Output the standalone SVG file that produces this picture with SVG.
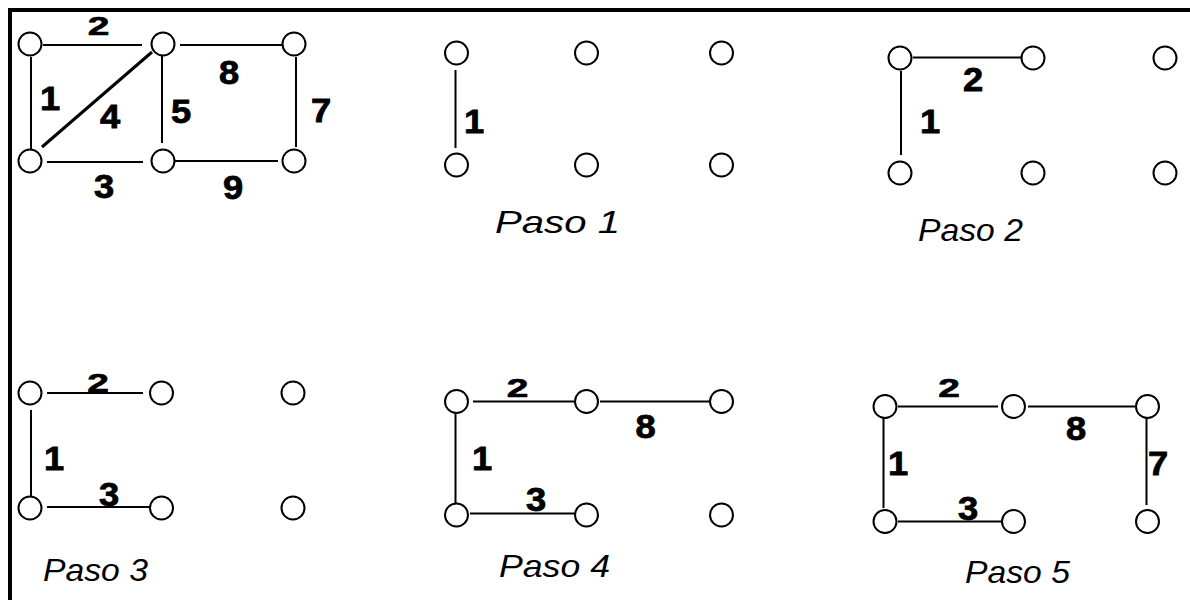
<svg xmlns="http://www.w3.org/2000/svg" width="1190" height="600" viewBox="0 0 1190 600">
  <style>
    .n { fill: #fff; stroke: #000; stroke-width: 2; }
    .e { stroke: #000; stroke-width: 2; fill: none; }
    .e4 { stroke: #000; stroke-width: 3; fill: none; }
    .w { font-family: "Liberation Sans", Arial, sans-serif; font-weight: bold; font-size: 33px; text-anchor: middle; fill: #000; stroke: #000; stroke-width: 0.8px; }
    .cap { font-family: "Liberation Sans", Arial, sans-serif; font-style: italic; font-size: 32px; fill: #000; }
    .frame { stroke: #000; stroke-width: 4; fill: none; }
  </style>

  <rect width="1190" height="600" fill="#fff"/>
  <!-- frame: top and left rules -->
  <path class="frame" d="M10,600 V10 H1190"/>

  <!-- ===== full graph ===== -->
  <g id="graph">
    <g id="graph-edges">
      <line class="e" x1="43" y1="45" x2="142" y2="45"/>
      <line class="e" x1="180" y1="45" x2="282" y2="45"/>
      <line class="e" x1="31" y1="57" x2="31" y2="150"/>
      <line class="e" x1="162" y1="53" x2="162" y2="143"/>
      <line class="e" x1="296" y1="57" x2="296" y2="147"/>
      <line class="e" x1="47" y1="162" x2="143" y2="162"/>
      <line class="e" x1="175" y1="161" x2="278" y2="161"/>
      <line class="e4" x1="42" y1="147" x2="152" y2="52"/>
    </g>
    <g id="graph-n1"><circle class="n" cx="30" cy="44" r="11.5"/></g>
    <g id="graph-n2"><circle class="n" cx="163" cy="44" r="11.5"/></g>
    <g id="graph-n3"><circle class="n" cx="294" cy="44" r="11.5"/></g>
    <g id="graph-n4"><circle class="n" cx="30" cy="161" r="11.5"/></g>
    <g id="graph-n5"><circle class="n" cx="163" cy="161" r="11.5"/></g>
    <g id="graph-n6"><circle class="n" cx="294" cy="161" r="11.5"/></g>
    <g id="graph-labels">
      <text class="w" transform="translate(98.5 35) scale(1.18 0.78)">2</text>
      <text class="w" transform="translate(50 110) scale(1.1 1)">1</text>
      <text class="w" transform="translate(110 128) scale(1.1 1)">4</text>
      <text class="w" transform="translate(181 123) scale(1.1 1)">5</text>
      <text class="w" transform="translate(229 84) scale(1.1 1)">8</text>
      <text class="w" transform="translate(321 122) scale(1.1 1)">7</text>
      <text class="w" transform="translate(104 198) scale(1.1 1)">3</text>
      <text class="w" transform="translate(233 199) scale(1.1 1)">9</text>
    </g>
  </g>

  <!-- ===== step 1 ===== -->
  <g id="step1">
    <g id="step1-edges">
      <line class="e" x1="455.5" y1="70" x2="455.5" y2="148"/>
    </g>
    <g id="step1-n1"><circle class="n" cx="456.5" cy="53" r="11.5"/></g>
    <g id="step1-n2"><circle class="n" cx="586.5" cy="53" r="11.5"/></g>
    <g id="step1-n3"><circle class="n" cx="721.5" cy="53" r="11.5"/></g>
    <g id="step1-n4"><circle class="n" cx="456.5" cy="165" r="11.5"/></g>
    <g id="step1-n5"><circle class="n" cx="586.5" cy="165" r="11.5"/></g>
    <g id="step1-n6"><circle class="n" cx="721.5" cy="165" r="11.5"/></g>
    <text class="w" transform="translate(474 133) scale(1.1 1)">1</text>
    <text class="cap" x="495" y="233" textLength="125" lengthAdjust="spacingAndGlyphs">Paso 1</text>
  </g>

  <!-- ===== step 2 ===== -->
  <g id="step2">
    <g id="step2-edges">
      <line class="e" x1="901" y1="71" x2="901" y2="155"/>
      <line class="e" x1="913" y1="57.5" x2="1022" y2="57.5"/>
    </g>
    <g id="step2-n1"><circle class="n" cx="900" cy="58" r="11.5"/></g>
    <g id="step2-n2"><circle class="n" cx="1033" cy="58" r="11.5"/></g>
    <g id="step2-n3"><circle class="n" cx="1165" cy="58" r="11.5"/></g>
    <g id="step2-n4"><circle class="n" cx="900" cy="173" r="11.5"/></g>
    <g id="step2-n5"><circle class="n" cx="1033" cy="173" r="11.5"/></g>
    <g id="step2-n6"><circle class="n" cx="1165" cy="173" r="11.5"/></g>
    <text class="w" transform="translate(973 91) scale(1.1 1)">2</text>
    <text class="w" transform="translate(930 133) scale(1.1 1)">1</text>
    <text class="cap" x="918" y="241" textLength="105" lengthAdjust="spacingAndGlyphs">Paso 2</text>
  </g>

  <!-- ===== step 3 ===== -->
  <g id="step3">
    <g id="step3-edges">
      <line class="e" x1="47" y1="393" x2="143" y2="393"/>
      <line class="e" x1="31" y1="410" x2="31" y2="497"/>
      <line class="e" x1="47" y1="507" x2="150" y2="507"/>
    </g>
    <g id="step3-n1"><circle class="n" cx="30" cy="393" r="11.5"/></g>
    <g id="step3-n2"><circle class="n" cx="161.5" cy="393" r="11.5"/></g>
    <g id="step3-n3"><circle class="n" cx="293" cy="393" r="11.5"/></g>
    <g id="step3-n4"><circle class="n" cx="30" cy="508" r="11.5"/></g>
    <g id="step3-n5"><circle class="n" cx="161.5" cy="508" r="11.5"/></g>
    <g id="step3-n6"><circle class="n" cx="293" cy="508" r="11.5"/></g>
    <text class="w" transform="translate(98 392) scale(1.18 0.78)">2</text>
    <text class="w" transform="translate(54 470) scale(1.1 1)">1</text>
    <text class="w" transform="translate(109 506) scale(1.1 1)">3</text>
    <text class="cap" x="43" y="581" textLength="105" lengthAdjust="spacingAndGlyphs">Paso 3</text>
  </g>

  <!-- ===== step 4 ===== -->
  <g id="step4">
    <g id="step4-edges">
      <line class="e" x1="473" y1="401.5" x2="575" y2="401.5"/>
      <line class="e" x1="600" y1="401.5" x2="713" y2="401.5"/>
      <line class="e" x1="455.5" y1="412" x2="455.5" y2="503"/>
      <line class="e" x1="470" y1="513.5" x2="575" y2="513.5"/>
    </g>
    <g id="step4-n1"><circle class="n" cx="456.5" cy="401.5" r="11.5"/></g>
    <g id="step4-n2"><circle class="n" cx="586.5" cy="401.5" r="11.5"/></g>
    <g id="step4-n3"><circle class="n" cx="721.5" cy="401.5" r="11.5"/></g>
    <g id="step4-n4"><circle class="n" cx="456.5" cy="515" r="11.5"/></g>
    <g id="step4-n5"><circle class="n" cx="586.5" cy="515" r="11.5"/></g>
    <g id="step4-n6"><circle class="n" cx="721.5" cy="515" r="11.5"/></g>
    <text class="w" transform="translate(517.5 397) scale(1.18 0.78)">2</text>
    <text class="w" transform="translate(645.5 438) scale(1.1 1)">8</text>
    <text class="w" transform="translate(482 470) scale(1.1 1)">1</text>
    <text class="w" transform="translate(536 511) scale(1.1 1)">3</text>
    <text class="cap" x="499" y="577" textLength="111" lengthAdjust="spacingAndGlyphs">Paso 4</text>
  </g>

  <!-- ===== step 5 ===== -->
  <g id="step5">
    <g id="step5-edges">
      <line class="e" x1="898" y1="406.5" x2="998" y2="406.5"/>
      <line class="e" x1="1028" y1="406.5" x2="1135" y2="406.5"/>
      <line class="e" x1="883.5" y1="417" x2="883.5" y2="508"/>
      <line class="e" x1="1146.5" y1="418" x2="1146.5" y2="505"/>
      <line class="e" x1="898" y1="521.5" x2="1002" y2="521.5"/>
    </g>
    <g id="step5-n1"><circle class="n" cx="885" cy="406.5" r="11.5"/></g>
    <g id="step5-n2"><circle class="n" cx="1013.5" cy="406.5" r="11.5"/></g>
    <g id="step5-n3"><circle class="n" cx="1147.5" cy="406.5" r="11.5"/></g>
    <g id="step5-n4"><circle class="n" cx="885" cy="521.5" r="11.5"/></g>
    <g id="step5-n5"><circle class="n" cx="1013.5" cy="521.5" r="11.5"/></g>
    <g id="step5-n6"><circle class="n" cx="1147.5" cy="521.5" r="11.5"/></g>
    <text class="w" transform="translate(949 397) scale(1.18 0.78)">2</text>
    <text class="w" transform="translate(1076 440) scale(1.1 1)">8</text>
    <text class="w" transform="translate(898 475) scale(1.1 1)">1</text>
    <text class="w" transform="translate(1158 475) scale(1.1 1)">7</text>
    <text class="w" transform="translate(968 520) scale(1.1 1)">3</text>
    <text class="cap" x="965" y="583" textLength="105" lengthAdjust="spacingAndGlyphs">Paso 5</text>
  </g>
</svg>
